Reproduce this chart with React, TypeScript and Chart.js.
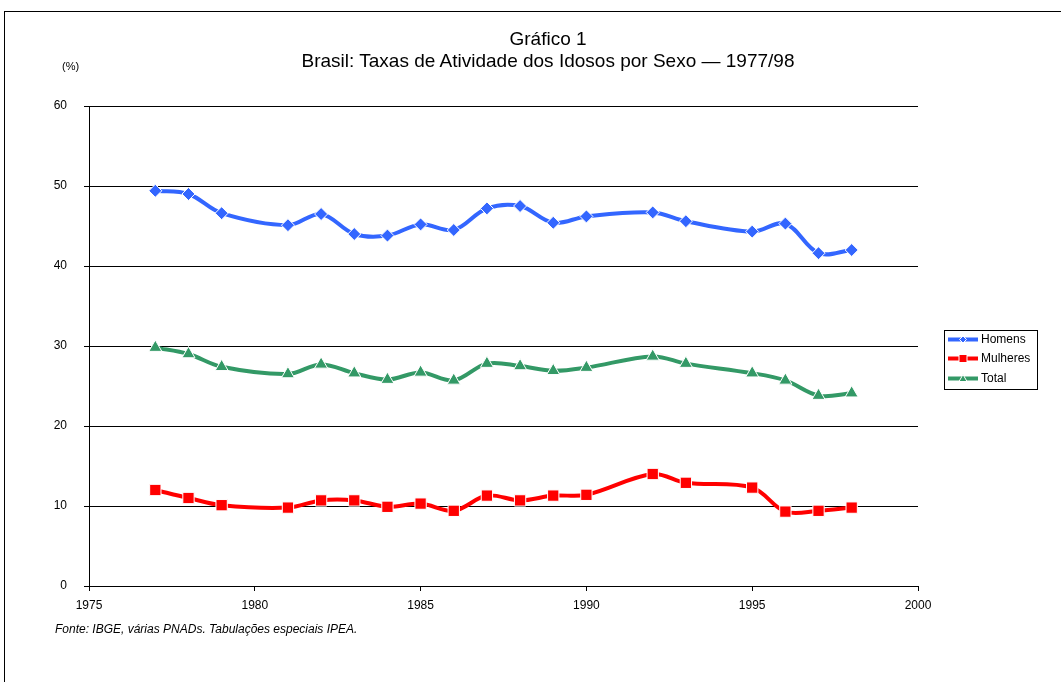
import { useEffect, useRef } from 'react';
import { Chart, registerables } from 'chart.js';

Chart.register(...registerables);

const FONT = '"Liberation Sans", Arial, Helvetica, sans-serif';

const years = [1977, 1978, 1979, 1981, 1982, 1983, 1984, 1985, 1986, 1987, 1988, 1989, 1990, 1992, 1993, 1995, 1996, 1997, 1998];
const homens = [49.4, 49.0, 46.6, 45.1, 46.5, 44.0, 43.8, 45.2, 44.5, 47.2, 47.5, 45.4, 46.2, 46.7, 45.6, 44.3, 45.3, 41.6, 42.0];
const mulheres = [12.0, 11.0, 10.1, 9.8, 10.7, 10.7, 9.9, 10.3, 9.4, 11.3, 10.7, 11.3, 11.4, 14.0, 12.9, 12.3, 9.3, 9.4, 9.8];
const total = [29.8, 29.0, 27.4, 26.5, 27.7, 26.6, 25.8, 26.7, 25.7, 27.8, 27.5, 26.9, 27.3, 28.7, 27.8, 26.6, 25.7, 23.8, 24.1];

const seriesNames = ['Homens', 'Mulheres', 'Total'];
const xTicks = [1975, 1980, 1985, 1990, 1995, 2000];
const yTicks = [0, 10, 20, 30, 40, 50, 60];

const titleLine1 = 'Gráfico 1';
const titleLine2 = 'Brasil: Taxas de Atividade dos Idosos por Sexo — 1977/98';
const unitLabel = '(%)';
const sourceNote = 'Fonte: IBGE, várias PNADs. Tabulações especiais IPEA.';

function drawMarker(ctx: CanvasRenderingContext2D, style: string, x: number, y: number, r: number, color: string) {
  ctx.beginPath();
  if (style === 'rectRot') {
    ctx.moveTo(x - r, y);
    ctx.lineTo(x, y - r);
    ctx.lineTo(x + r, y);
    ctx.lineTo(x, y + r);
  } else if (style === 'triangle') {
    ctx.moveTo(x, y - r);
    ctx.lineTo(x + r, y + r * 0.75);
    ctx.lineTo(x - r, y + r * 0.75);
  } else {
    ctx.rect(x - r, y - r, 2 * r, 2 * r);
  }
  ctx.closePath();
  ctx.fillStyle = color;
  ctx.fill();
  ctx.strokeStyle = '#fff';
  ctx.lineWidth = 1;
  ctx.stroke();
}

const legendPlugin = {
  id: 'excelLegend',
  afterDraw(chart: any) {
    const ctx: CanvasRenderingContext2D = chart.ctx;
    ctx.save();
    ctx.strokeStyle = '#000';
    ctx.lineWidth = 1;
    ctx.strokeRect(944.5, 330.5, 93, 59);
    const rowY = [339.5, 358.5, 378.5];
    const markerR = [3.5, 4, 4];
    chart.data.datasets.forEach((ds: any, i: number) => {
      const y = rowY[i];
      ctx.strokeStyle = ds.borderColor;
      ctx.lineWidth = 4;
      ctx.beginPath();
      ctx.moveTo(948, y);
      ctx.lineTo(978, y);
      ctx.stroke();
      drawMarker(ctx, ds.pointStyle, 963, y, markerR[i], ds.pointBackgroundColor);
      ctx.fillStyle = '#000';
      ctx.font = `12px ${FONT}`;
      ctx.textBaseline = 'middle';
      ctx.textAlign = 'left';
      ctx.fillText(ds.label, 981, y + 0.5);
    });
    ctx.restore();
  },
};

export default function App() {
  const canvasRef = useRef<HTMLCanvasElement | null>(null);

  useEffect(() => {
    document.body.style.margin = '0';
    const canvas = canvasRef.current;
    if (!canvas) return;
    const mk = (vals: number[]) => years.map((yr, i) => ({ x: yr, y: vals[i] }));
    const chart = new Chart(canvas, {
      type: 'line',
      data: {
        datasets: [
          {
            label: seriesNames[0],
            data: mk(homens),
            borderColor: '#3366FF',
            backgroundColor: '#3366FF',
            pointBackgroundColor: '#3366FF',
            pointBorderColor: '#ffffff',
            pointBorderWidth: 1,
            pointStyle: 'rectRot',
            pointRadius: 6.5,
            borderWidth: 4,
            tension: 0.35,
          },
          {
            label: seriesNames[1],
            data: mk(mulheres),
            borderColor: '#FF0000',
            backgroundColor: '#FF0000',
            pointBackgroundColor: '#FF0000',
            pointBorderColor: '#ffffff',
            pointBorderWidth: 1,
            pointStyle: 'rect',
            pointRadius: 8,
            borderWidth: 4,
            tension: 0.35,
          },
          {
            label: seriesNames[2],
            data: mk(total),
            borderColor: '#339966',
            backgroundColor: '#339966',
            pointBackgroundColor: '#339966',
            pointBorderColor: '#ffffff',
            pointBorderWidth: 1,
            pointStyle: 'triangle',
            pointRadius: 7.5,
            borderWidth: 4,
            tension: 0.35,
          },
        ],
      } as any,
      options: {
        responsive: false,
        animation: false,
        events: [],
        layout: { padding: { left: 0, top: 106, right: 143, bottom: 66 } },
        plugins: {
          legend: { display: false },
          title: { display: false },
          tooltip: { enabled: false },
        },
        scales: {
          x: {
            type: 'linear',
            min: 1975,
            max: 2000,
            afterBuildTicks: (s: any) => {
              s.ticks = xTicks.map((v) => ({ value: v }));
            },
            afterFit: (s: any) => {
              s.height = 30;
            },
            grid: { drawOnChartArea: false, drawTicks: true, tickLength: 5, color: '#000', lineWidth: 1 },
            border: { display: true, color: '#000', width: 1 },
            ticks: {
              color: '#000',
              font: { size: 12, family: FONT },
              padding: 7,
              maxRotation: 0,
              autoSkip: false,
              callback: (v: any) => String(v),
            },
          },
          y: {
            min: 0,
            max: 60,
            afterBuildTicks: (s: any) => {
              s.ticks = yTicks.map((v) => ({ value: v }));
            },
            afterFit: (s: any) => {
              s.width = 89;
            },
            grid: { drawTicks: true, tickLength: 5, color: '#000', lineWidth: 1 },
            border: { display: true, color: '#000', width: 1 },
            ticks: {
              color: '#000',
              font: { size: 12, family: FONT },
              padding: 17,
              callback: (v: any) => String(v),
            },
          },
        },
      } as any,
      plugins: [legendPlugin],
    });
    return () => chart.destroy();
  }, []);

  return (
    <div style={{ position: 'relative', width: 1061, height: 682, overflow: 'hidden', background: '#fff', fontFamily: FONT }}>
      <div style={{ position: 'absolute', left: 4, top: 11, width: 1200, height: 800, borderTop: '1px solid #000', borderLeft: '1px solid #000' }} />
      <canvas ref={canvasRef} width={1061} height={682} style={{ position: 'absolute', left: 0, top: 0, display: 'block' }} />
      <div style={{ position: 'absolute', left: 0, width: 1096, top: 28, textAlign: 'center', fontSize: 19, lineHeight: '22px', color: '#000' }}>{titleLine1}</div>
      <div style={{ position: 'absolute', left: 0, width: 1096, top: 50, textAlign: 'center', fontSize: 19, lineHeight: '22px', color: '#000' }}>{titleLine2}</div>
      <div style={{ position: 'absolute', left: 62, top: 60, fontSize: 11, lineHeight: '13px', color: '#000' }}>{unitLabel}</div>
      <div style={{ position: 'absolute', left: 55, top: 622, fontSize: 12, lineHeight: '14px', fontStyle: 'italic', color: '#000', whiteSpace: 'nowrap' }}>{sourceNote}</div>
    </div>
  );
}
